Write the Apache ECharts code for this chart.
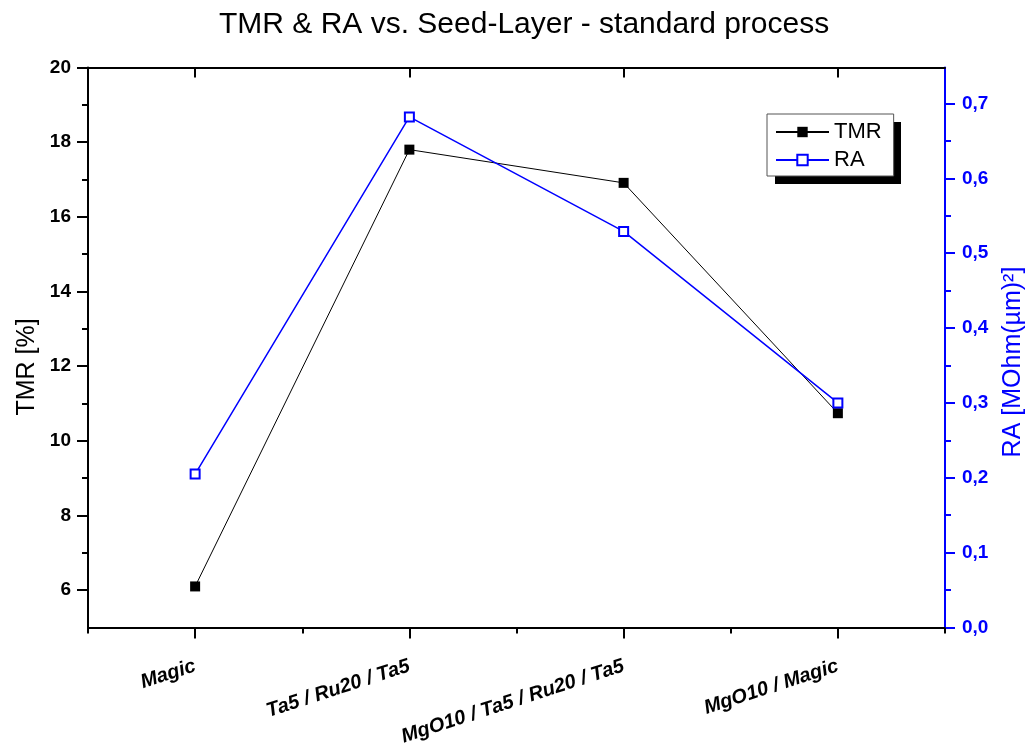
<!DOCTYPE html>
<html>
<head>
<meta charset="utf-8">
<script src="https://cdn.jsdelivr.net/npm/echarts@6/dist/echarts.min.js"></script>
<style>
html,body{margin:0;padding:0;background:#fff;}
#chart{width:1031px;height:753px;}
</style>
</head>
<body>
<div id="chart"></div>
<script>
var categories = ['Magic', 'Ta5 / Ru20 / Ta5', 'MgO10 / Ta5 / Ru20 / Ta5', 'MgO10 / Magic'];
var tmrValues = [6.1, 17.8, 16.91, 10.74];
var raValues = [0.205, 0.682, 0.529, 0.30];
var tmrMajorTicks = [6, 8, 10, 12, 14, 16, 18, 20];
var tmrMinorTicks = [7, 9, 11, 13, 15, 17, 19];
var raMajorTicks = [0, 0.1, 0.2, 0.3, 0.4, 0.5, 0.6, 0.7];
var raMinorTicks = [0.05, 0.15, 0.25, 0.35, 0.45, 0.55, 0.65];
var titleText = 'TMR & RA vs. Seed-Layer - standard process';
var tmrName = 'TMR [%]';
var raName = 'RA [MOhm(µm)²]';

var FONT = '"Liberation Sans", Arial, sans-serif';
var BLUE = '#0000ff';
var chart = echarts.init(document.getElementById('chart'));

function catAxis(pos, opts) {
  var base = {
    type: 'category', data: categories, position: pos, boundaryGap: true,
    axisLine: {show: false}, axisLabel: {show: false}, splitLine: {show: false},
    axisTick: {show: true, lineStyle: {color: '#000', width: 2}}
  };
  return echarts.util.merge(base, opts, true);
}

var option = {
  animation: false,
  backgroundColor: '#fff',
  title: {
    text: titleText, left: 214, top: 5,
    textStyle: {fontFamily: FONT, fontSize: 30, fontWeight: 'normal', color: '#000'}
  },
  legend: {
    orient: 'vertical', left: 767, top: 114, z: 10,
    padding: [7, 12, 5, 8], itemGap: 6, itemWidth: 53, itemHeight: 13,
    backgroundColor: '#fff', borderColor: '#555', borderWidth: 1,
    textStyle: {fontFamily: FONT, fontSize: 22, color: '#000', lineHeight: 22},
    data: ['TMR', 'RA']
  },
  grid: {left: 88, right: 86, top: 67.5, bottom: 125.5, containLabel: false},
  xAxis: [
    catAxis('bottom', {
      axisLine: {show: true, onZero: false, lineStyle: {color: '#000', width: 2}},
      axisTick: {alignWithLabel: true, length: 11, inside: false},
      axisLabel: {show: true, rotate: 18, margin: 38, fontFamily: FONT, fontSize: 20,
        fontWeight: 'bold', fontStyle: 'italic', color: '#000'}
    }),
    catAxis('bottom', {axisTick: {length: 6, inside: false}}),
    catAxis('top', {
      axisLine: {show: true, onZero: false, lineStyle: {color: '#000', width: 2}},
      axisTick: {alignWithLabel: true, length: 10, inside: true}
    }),
    catAxis('top', {axisTick: {length: 5, inside: true}})
  ],
  yAxis: [
    {
      type: 'value', position: 'left', min: 5, max: 20, interval: 1,
      splitLine: {show: false},
      axisLine: {show: true, onZero: false, lineStyle: {color: '#000', width: 2}},
      axisTick: {show: true, length: 11, customValues: tmrMajorTicks, lineStyle: {color: '#000', width: 2}},
      axisLabel: {show: true, customValues: tmrMajorTicks, margin: 17, fontFamily: FONT, fontSize: 19,
        fontWeight: 'bold', color: '#000'}
    },
    {
      type: 'value', position: 'left', min: 5, max: 20, interval: 1,
      splitLine: {show: false}, axisLine: {show: false}, axisLabel: {show: false},
      axisTick: {show: true, length: 6, customValues: tmrMinorTicks, lineStyle: {color: '#000', width: 2}}
    },
    {
      type: 'value', position: 'right', min: 0, max: 0.748, interval: 0.1,
      splitLine: {show: false},
      axisLine: {show: true, onZero: false, lineStyle: {color: BLUE, width: 2}},
      axisTick: {show: true, length: 10, customValues: raMajorTicks, lineStyle: {color: BLUE, width: 2}},
      axisLabel: {show: true, customValues: raMajorTicks, margin: 17, fontFamily: FONT, fontSize: 19,
        fontWeight: 'bold', color: BLUE,
        formatter: function (v) { return v.toFixed(1).replace('.', ','); }}
    },
    {
      type: 'value', position: 'right', min: 0, max: 0.748, interval: 0.1,
      splitLine: {show: false}, axisLine: {show: false}, axisLabel: {show: false},
      axisTick: {show: true, length: 6, customValues: raMinorTicks, lineStyle: {color: BLUE, width: 2}}
    }
  ],
  graphic: [
    {type: 'rect', z: 1, shape: {x: 775, y: 122, width: 126, height: 62}, style: {fill: '#000'}},
    {type: 'text', x: 27, y: 367, rotation: Math.PI / 2,
      style: {text: tmrName, fontFamily: FONT, fontSize: 25, fill: '#000', textAlign: 'center', textVerticalAlign: 'middle'}},
    {type: 'text', x: 1013, y: 362, rotation: Math.PI / 2,
      style: {text: raName, fontFamily: FONT, fontSize: 25, fill: BLUE, textAlign: 'center', textVerticalAlign: 'middle'}}
  ],
  series: [
    {
      name: 'TMR', type: 'line', xAxisIndex: 0, yAxisIndex: 0, data: tmrValues,
      symbol: 'rect', symbolSize: 10,
      lineStyle: {color: '#000', width: 1},
      itemStyle: {color: '#000', borderColor: '#000', borderWidth: 0}
    },
    {
      name: 'RA', type: 'line', xAxisIndex: 0, yAxisIndex: 2, data: raValues,
      symbol: 'rect', symbolSize: 9,
      lineStyle: {color: BLUE, width: 1.5},
      itemStyle: {color: '#fff', borderColor: BLUE, borderWidth: 2}
    }
  ]
};
chart.setOption(option);
</script>
</body>
</html>
